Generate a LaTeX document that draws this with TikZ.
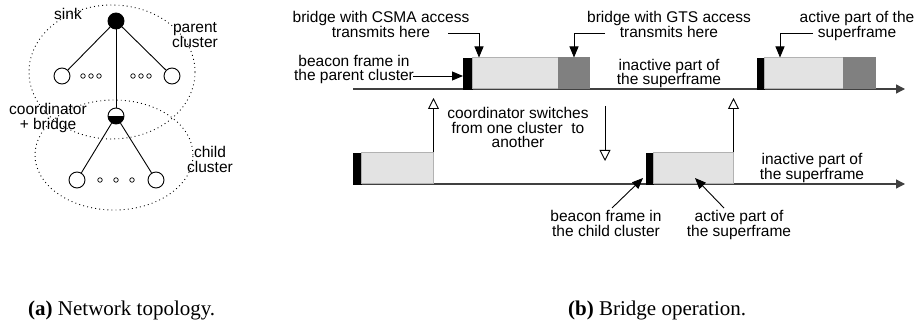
\documentclass[tikz,border=0pt]{standalone}
\usepackage{fontspec}
\setmainfont{Liberation Serif}
\setsansfont{Liberation Sans}
\usetikzlibrary{arrows.meta}
\begin{document}
\begin{tikzpicture}[x=1pt,y=-1pt,
  lbl/.style={font=\sffamily\fontsize{15.5}{14.5}\selectfont, align=center, anchor=base, inner sep=0pt},
  captxt/.style={font=\fontsize{21}{24}\selectfont, anchor=base west, inner sep=0pt},
  nd/.style={circle, draw, line width=0.9pt, minimum size=16pt, inner sep=0pt, fill=white},
  smalldot/.style={circle, draw, line width=0.7pt, minimum size=4.5pt, inner sep=0pt},
  edge/.style={line width=0.9pt},
  cluster/.style={draw, line width=0.9pt, dash pattern=on 0.9pt off 3.2pt},
  beacon/.style={fill=black, draw=black, line width=0.4pt, inner sep=0pt, anchor=south west, minimum height=31pt},
  active/.style={fill=black!11, draw=black!30, line width=0.5pt, inner sep=0pt, anchor=south west, minimum height=31pt},
  gts/.style={fill=black!50, draw=black!50, line width=0.5pt, inner sep=0pt, anchor=south west, minimum height=31pt},
  timeline/.style={line width=1.3pt, draw=black!75, -{Triangle[length=9pt,width=9pt]}},
  callout/.style={line width=0.9pt, -{Triangle[length=11pt,width=9pt]}},
  switch/.style={line width=0.9pt, -{Triangle[open,length=11pt,width=11pt,fill=white]}},
]
\useasboundingbox[fill=white] (0,0) rectangle (920,323);

% ---------- (a) network topology ----------
\draw[cluster] (112,72) ellipse [x radius=83pt, y radius=67pt];
\draw[cluster] (114,155) ellipse [x radius=79pt, y radius=55pt];

\node[nd, fill=black] (sink) at (116,21) {};
\node[nd] (l1) at (62,76) {};
\node[nd] (r1) at (172,76) {};
\node[nd, path picture={\fill[black] (path picture bounding box.west) rectangle (path picture bounding box.south east);}] (coord) at (116,116) {};
\node[nd] (cl) at (77,180) {};
\node[nd] (cr) at (156,180) {};
\foreach \i/\x in {1/83,2/91,3/99,4/133,5/141,6/149}
  \node[smalldot] (pd\i) at (\x,76) {};
\foreach \i/\x in {1/100,2/116,3/132}
  \node[smalldot] (cd\i) at (\x,180) {};

\draw[edge] (sink) -- (l1);
\draw[edge] (sink) -- (r1);
\draw[edge] (sink) -- (coord);
\draw[edge] (coord) -- (cl);
\draw[edge] (coord) -- (cr);

% (anchor=base of a multi-line label is the baseline of its last line)
\node[lbl] (sinkL) at (68,19.5) {sink};
\node[lbl] (parentL) at (195,47.5) {parent\\cluster};
\node[lbl] (coordL) at (48,129.5) {coordinator\\+ bridge};
\node[lbl] (childL) at (210,172.5) {child\\cluster};

% ---------- (b) bridge operation ----------
\coordinate (t1s) at (353,89);
\coordinate (t1e) at (905,89);
\coordinate (t2s) at (353,184);
\coordinate (t2e) at (905,184);
\draw[timeline] (t1s) -- (t1e);
\draw[timeline] (t2s) -- (t2e);

\node[beacon, minimum width=9pt] (b1) at (463,89) {};
\node[active, minimum width=86pt] (a1) at (472,89) {};
\node[gts, minimum width=31pt] (g1) at (558,89) {};
\node[beacon, minimum width=7pt] (b2) at (757,89) {};
\node[active, minimum width=79pt] (a2) at (764,89) {};
\node[gts, minimum width=32pt] (g2) at (843,89) {};

\node[beacon, minimum width=8pt] (b3) at (353,184) {};
\node[active, minimum width=72pt] (a3) at (361,184) {};
\node[beacon, minimum width=7pt] (b4) at (646,184) {};
\node[active, minimum width=80pt] (a4) at (653,184) {};

% labels
\node[lbl] (csmaL) at (381,37.5) {bridge with CSMA access\\transmits here};
\node[lbl] (pbL) at (354,81) {beacon frame in\\the parent cluster};
\node[lbl] (gtsL) at (669,37.5) {bridge with GTS access\\transmits here};
\node[lbl] (actTL) at (857,37.5) {active part of the\\superframe};
\node[lbl] (inactTL) at (669,85) {inactive part of\\the superframe};
\node[lbl] (switchL) at (518,148) {coordinator switches\\from one cluster\ \ to\\another};
\node[lbl] (inactBL) at (812,179.5) {inactive part of\\the superframe};
\node[lbl] (cbL) at (606,236) {beacon frame in\\the child cluster};
\node[lbl] (actBL) at (739,236) {active part of\\the superframe};

% callout arrows
\coordinate (csmaS) at (448,33);
\coordinate (gtsS) at (605,33);
\coordinate (actTS) at (813,33);
\coordinate (pbS) at (413,76);
\coordinate (cbS) at (612,208);
\coordinate (actBS) at (724,208);
\draw[callout] (csmaS) -| ([xshift=7pt]a1.north west);
\draw[callout] (gtsS) -| ([xshift=16pt]g1.north west);
\draw[callout] (actTS) -| ([xshift=16pt]a2.north west);
\draw[callout] (pbS) -- (pbS -| b1.west);
\draw[callout] (cbS) -- ([xshift=-3pt,yshift=6pt]b4.south west);
\draw[callout] (actBS) -- ([xshift=42pt,yshift=6pt]a4.south west);

% switching arrows
\coordinate (up1) at (432,98);
\coordinate (dn1s) at (605,106);
\coordinate (dn1e) at (605,161);
\coordinate (up2) at (733,98);
\draw[switch] (a3.north east) -- (up1 -| a3.north east);
\draw[switch] (dn1s) -- (dn1e);
\draw[switch] (a4.north east) -- (up2 -| a4.north east);

% captions
\node[captxt] (capA) at (28,315) {\textbf{(a)} Network topology.};
\node[captxt] (capB) at (568,315) {\textbf{(b)} Bridge operation.};
\end{tikzpicture}
\end{document}
